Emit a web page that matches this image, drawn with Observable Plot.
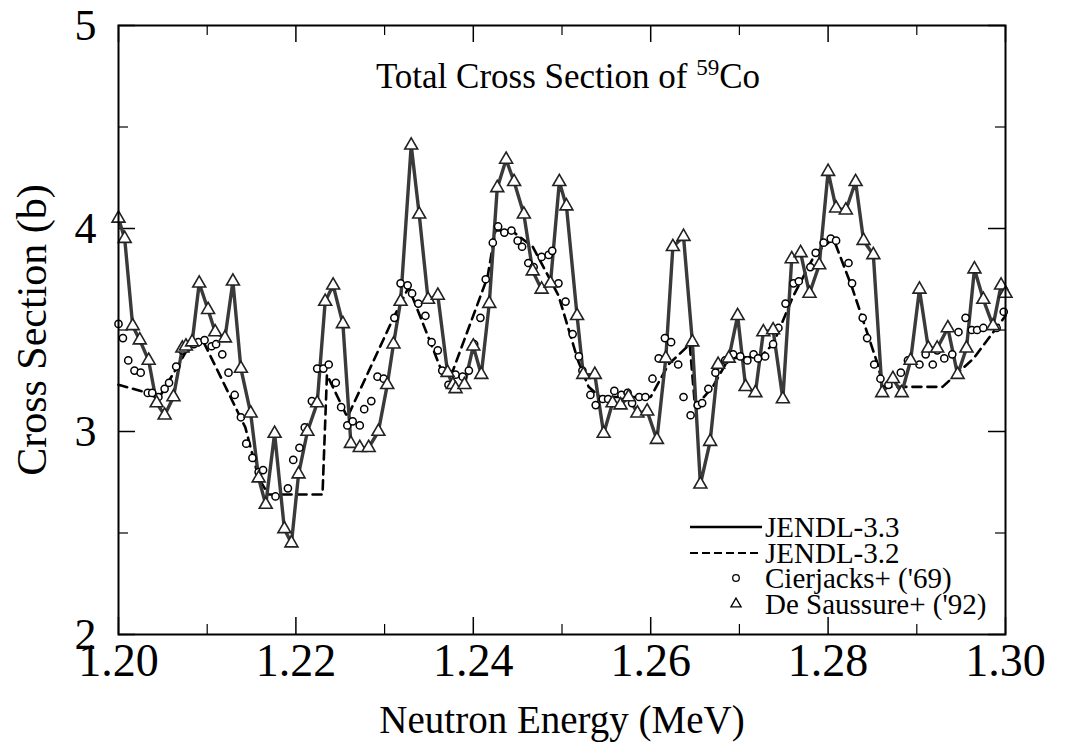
<!DOCTYPE html>
<html><head><meta charset="utf-8">
<script src="https://cdn.jsdelivr.net/npm/d3@7"></script>
<script src="https://cdn.jsdelivr.net/npm/@observablehq/plot@0.6"></script>
<style>body{margin:0;background:#fff} svg{display:block}</style>
</head><body><div id="chart"></div>
<script>
// De Saussure+ ('92) measured points; JENDL-3.3 curve follows these points
const desE = [1.2000,1.2007,1.2016,1.2024,1.2034,1.2043,1.2052,1.2062,1.2072,1.2076,
1.2083,1.2091,1.2101,1.2109,1.2120,1.2129,1.2138,1.2149,1.2158,1.2166,
1.2176,1.2187,1.2195,1.2203,1.2213,1.2224,1.2233,1.2242,1.2253,1.2262,
1.2272,1.2282,1.2293,1.2303,1.2310,1.2318,1.2330,1.2339,1.2349,1.2360,
1.2371,1.2377,1.2380,1.2390,1.2400,1.2409,1.2418,1.2427,1.2437,1.2446,
1.2457,1.2467,1.2477,1.2487,1.2497,1.2505,1.2517,1.2524,1.2537,1.2547,
1.2557,1.2566,1.2575,1.2585,1.2596,1.2607,1.2617,1.2625,1.2637,1.2647,
1.2656,1.2667,1.2676,1.2688,1.2698,1.2707,1.2718,1.2727,1.2738,1.2749,
1.2759,1.2769,1.2779,1.2790,1.2800,1.2809,1.2820,1.2831,1.2840,1.2851,
1.2861,1.2873,1.2883,1.2893,1.2903,1.2913,1.2923,1.2935,1.2946,1.2956,
1.2965,1.2975,1.2986,1.2995,1.3000];
const desS = [4.05,3.95,3.52,3.45,3.35,3.14,3.08,3.17,3.41,3.42,
3.44,3.73,3.60,3.49,3.46,3.74,3.31,3.09,2.77,2.64,
2.99,2.52,2.45,2.79,3.00,3.14,3.64,3.72,3.53,2.94,
2.92,2.92,3.00,3.23,3.43,3.64,4.41,4.07,3.65,3.67,
3.29,3.23,3.21,3.23,3.42,3.28,3.63,4.20,4.34,4.23,
4.07,3.79,3.70,3.73,4.23,4.11,3.57,3.28,3.28,2.99,
3.14,3.13,3.17,3.09,3.10,2.96,3.36,3.91,3.96,3.44,
2.74,2.95,3.33,3.36,3.57,3.22,3.19,3.49,3.50,3.16,
3.85,3.88,3.68,3.82,4.28,4.10,4.09,4.23,3.94,3.87,
3.19,3.26,3.19,3.35,3.70,3.41,3.41,3.51,3.28,3.41,
3.80,3.65,3.52,3.72,3.68];

// JENDL-3.2 evaluation (dashed)
const j32E = [1.2000,1.2033,1.2045,1.2081,1.2096,1.2143,1.2158,1.2169,1.2230,1.2235,
1.2258,1.2310,1.2327,1.2338,1.2366,1.2377,1.2416,1.2425,1.2443,1.2467,
1.2496,1.2518,1.2530,1.2543,1.2600,1.2620,1.2644,1.2650,1.2670,1.2688,
1.2724,1.2738,1.2760,1.2786,1.2806,1.2827,1.2856,1.2862,1.2929,1.2964,1.3000];
const j32S = [3.23,3.19,3.16,3.43,3.44,3.02,2.77,2.69,2.69,3.28,
3.07,3.56,3.71,3.59,3.28,3.30,3.76,3.99,3.99,3.91,
3.67,3.35,3.22,3.17,3.17,3.33,3.43,3.12,3.22,3.36,
3.37,3.43,3.66,3.88,3.95,3.71,3.33,3.22,3.22,3.36,3.57];

// Cierjacks+ ('69) measured points
const cjE = [1.2000,1.2005,1.2011,1.2018,1.2025,1.2033,1.2038,1.2045,1.2052,1.2057,
1.2065,1.2072,1.2077,1.2085,1.2090,1.2097,1.2105,1.2110,1.2117,1.2124,
1.2131,1.2138,1.2144,1.2151,1.2158,1.2163,1.2177,1.2191,1.2197,1.2204,
1.2210,1.2218,1.2224,1.2231,1.2237,1.2245,1.2251,1.2258,1.2264,1.2272,
1.2277,1.2285,1.2292,1.2299,1.2311,1.2318,1.2326,1.2331,1.2338,1.2346,
1.2353,1.2360,1.2365,1.2372,1.2380,1.2388,1.2395,1.2401,1.2408,1.2414,
1.2422,1.2428,1.2435,1.2443,1.2450,1.2455,1.2462,1.2468,1.2477,1.2485,
1.2489,1.2496,1.2504,1.2512,1.2519,1.2523,1.2532,1.2538,1.2546,1.2552,
1.2559,1.2567,1.2574,1.2579,1.2587,1.2594,1.2602,1.2609,1.2616,1.2623,
1.2631,1.2637,1.2645,1.2653,1.2658,1.2665,1.2673,1.2684,1.2693,1.2701,
1.2709,1.2716,1.2721,1.2729,1.2738,1.2744,1.2752,1.2761,1.2767,1.2780,
1.2786,1.2795,1.2803,1.2809,1.2823,1.2827,1.2839,1.2844,1.2852,1.2859,
1.2868,1.2882,1.2890,1.2903,1.2910,1.2918,1.2923,1.2931,1.2940,1.2947,
1.2955,1.2962,1.2968,1.2975,1.2990,1.2998];
const cjS = [3.53,3.46,3.35,3.30,3.29,3.19,3.19,3.17,3.21,3.24,
3.32,3.40,3.41,3.43,3.44,3.45,3.42,3.43,3.38,3.29,
3.18,3.07,2.94,2.87,2.80,2.81,2.68,2.72,2.86,2.92,
3.02,3.15,3.31,3.31,3.33,3.24,3.12,3.03,3.05,3.03,
3.11,3.15,3.27,3.26,3.56,3.73,3.72,3.68,3.63,3.57,
3.44,3.40,3.30,3.23,3.28,3.27,3.30,3.43,3.56,3.75,
3.93,4.01,3.98,3.99,3.94,3.91,3.83,3.81,3.86,3.87,
3.89,3.73,3.64,3.48,3.37,3.30,3.18,3.13,3.16,3.16,
3.20,3.18,3.19,3.14,3.17,3.17,3.26,3.36,3.46,3.44,
3.33,3.17,3.08,3.13,3.14,3.21,3.29,3.35,3.38,3.37,
3.35,3.38,3.36,3.37,3.43,3.51,3.63,3.73,3.74,3.81,
3.88,3.93,3.95,3.94,3.83,3.73,3.56,3.46,3.33,3.26,
3.23,3.29,3.35,3.33,3.38,3.33,3.40,3.36,3.38,3.49,
3.56,3.50,3.50,3.51,3.51,3.59];

const xMajor = [1.20,1.22,1.24,1.26,1.28,1.30];
const xMinor = [1.21,1.23,1.25,1.27,1.29];
const yMajor = [2,3,4,5];
const yMinor = [2.5,3.5,4.5];
const legendLabels = ["JENDL-3.3","JENDL-3.2","Cierjacks+ ('69)","De Saussure+ ('92)"];

const W = 1078, H = 755, mL = 118, mR = 73, mT = 25, mB = 121;
const pw = W - mL - mR, ph = H - mT - mB;
const FONT = "Liberation Serif, Times New Roman, serif";

const des = desE.map((e, i) => ({e, s: desS[i]}));
const j32 = j32E.map((e, i) => ({e, s: j32S[i]}));
const cj = cjE.map((e, i) => ({e, s: cjS[i]}));

const MAJ = 17, MIN = 10;
const chart = Plot.plot({
  width: W, height: H,
  marginLeft: mL, marginRight: mR, marginTop: mT, marginBottom: mB,
  style: {fontFamily: FONT, background: "white", color: "black"},
  x: {domain: [1.2, 1.3], label: null},
  y: {domain: [2, 5], label: null},
  marks: [
    // inward ticks on all four sides
    Plot.ruleX(xMajor, {x: d => d, insetTop: ph - MAJ, stroke: "black", strokeWidth: 1.5}),
    Plot.ruleX(xMajor, {x: d => d, insetBottom: ph - MAJ, stroke: "black", strokeWidth: 1.5}),
    Plot.ruleX(xMinor, {x: d => d, insetTop: ph - MIN, stroke: "black", strokeWidth: 1.2}),
    Plot.ruleX(xMinor, {x: d => d, insetBottom: ph - MIN, stroke: "black", strokeWidth: 1.2}),
    Plot.ruleY(yMajor, {y: d => d, insetRight: pw - MAJ, stroke: "black", strokeWidth: 1.5}),
    Plot.ruleY(yMajor, {y: d => d, insetLeft: pw - MAJ, stroke: "black", strokeWidth: 1.5}),
    Plot.ruleY(yMinor, {y: d => d, insetRight: pw - MIN, stroke: "black", strokeWidth: 1.2}),
    Plot.ruleY(yMinor, {y: d => d, insetLeft: pw - MIN, stroke: "black", strokeWidth: 1.2}),
    Plot.axisX(xMajor, {anchor: "bottom", tickSize: 0, tickPadding: 9, fontSize: 46, fontFamily: FONT, tickFormat: d3.format(".2f"), label: null}),
    Plot.axisY(yMajor, {anchor: "left", tickSize: 0, tickPadding: 22, fontSize: 44, fontFamily: FONT, tickFormat: d => String(d), label: null}),
    Plot.line(j32, {x: "e", y: "s", stroke: "black", strokeWidth: 2.6, strokeDasharray: "9,6"}),
    Plot.line(des, {x: "e", y: "s", stroke: "#3a3a3a", strokeWidth: 3.4}),
    Plot.dot(cj, {x: "e", y: "s", r: 3.6, fill: "white", stroke: "black", strokeWidth: 1.5}),
    Plot.dot(des, {x: "e", y: "s", symbol: "triangle", r: 4.8, fill: "white", stroke: "#222", strokeWidth: 1.6}),
    Plot.frame({stroke: "black", strokeWidth: 2}),
    Plot.text(["Neutron Energy (MeV)"], {text: d => d, frameAnchor: "bottom", dy: 98, fontSize: 39, fontFamily: FONT}),
    Plot.text(["Cross Section (b)"], {text: d => d, frameAnchor: "left", textAnchor: "middle", lineAnchor: "middle", dx: -86, rotate: -90, fontSize: 42, fontFamily: FONT})
  ]
});
document.getElementById("chart").append(chart);

const svg = d3.select(chart);
// Title with superscript mass number
const title = svg.append("text")
  .attr("x", 568).attr("y", 88)
  .attr("text-anchor", "middle")
  .attr("font-family", FONT).attr("font-size", 35).attr("fill", "black");
title.append("tspan").text("Total Cross Section of ");
title.append("tspan").attr("font-size", 23).attr("dy", -13).text("59");
title.append("tspan").attr("dy", 13).text("Co");

// Legend (inside plot, lower right)
const lg = svg.append("g").attr("font-family", FONT).attr("font-size", 29)
  .attr("fill", "black").attr("text-anchor", "start");
const rows = [527, 553, 578, 604];
lg.append("line").attr("x1", 690).attr("x2", 762).attr("y1", rows[0]).attr("y2", rows[0])
  .attr("stroke", "black").attr("stroke-width", 2.5);
lg.append("line").attr("x1", 690).attr("x2", 762).attr("y1", rows[1]).attr("y2", rows[1])
  .attr("stroke", "black").attr("stroke-width", 2.2).attr("stroke-dasharray", "8,4");
lg.append("circle").attr("cx", 736).attr("cy", rows[2]).attr("r", 3.3)
  .attr("fill", "white").attr("stroke", "black").attr("stroke-width", 1.3);
lg.append("path").attr("d", d3.symbol(d3.symbolTriangle, 45)()).attr("transform", `translate(736,${rows[3]})`)
  .attr("fill", "white").attr("stroke", "black").attr("stroke-width", 1.3);
legendLabels.forEach((t, i) => {
  lg.append("text").attr("x", 765).attr("y", rows[i]).attr("dy", "0.34em").text(t);
});
</script>
</body></html>
